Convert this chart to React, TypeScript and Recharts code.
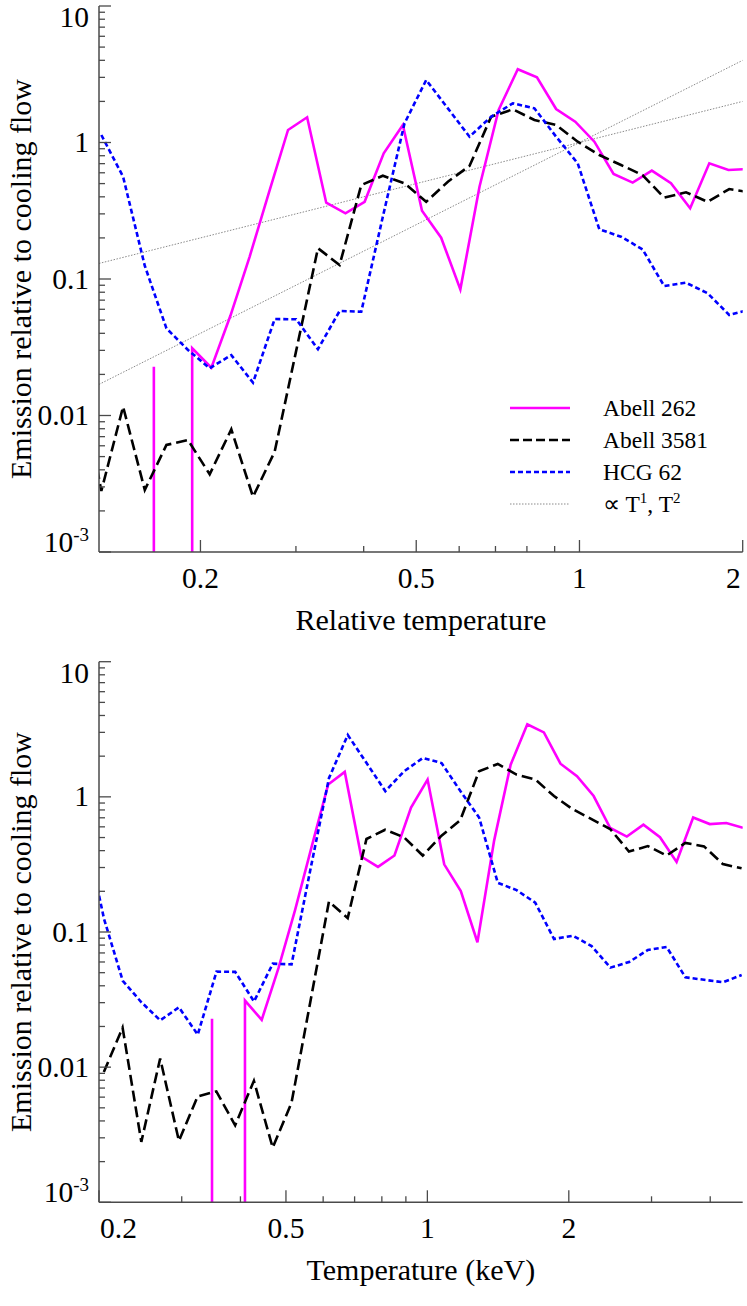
import React from 'react';
import { LineChart, Line, XAxis, YAxis, Legend, Label } from 'recharts';

const FONT = '"Liberation Serif", "Times New Roman", Times, serif';
const AXIS_COLOR = '#4a4a4a';

const seriesNames = ['Abell 262', 'Abell 3581', 'HCG 62'];
const seriesColors = ['#ff00ff', '#000000', '#0000ff'];
const seriesDash = [undefined, '11 5', '5 3'];
const powerLawName = '\u221d T';
const powerLawColor = '#8a8a8a';

// Abell 262 (null = non-positive bin, drawn as a drop to the axis)
const a262RelTemp = [0.1641, 0.178, 0.1931, 0.2095, 0.2272, 0.2465, 0.2674, 0.2901, 0.3146, 0.3412, 0.3702, 0.4016, 0.4355, 0.4724, 0.5124, 0.5558, 0.603, 0.6541, 0.7094, 0.7696, 0.8348, 0.9056, 0.9822, 1.0654, 1.1557, 1.2536, 1.3597, 1.4749, 1.6, 1.7355, 1.8825, 2.042, 2.215];
const a262KeV = [0.348, 0.377, 0.409, 0.444, 0.482, 0.523, 0.567, 0.615, 0.667, 0.723, 0.785, 0.851, 0.923, 1.001, 1.086, 1.178, 1.278, 1.387, 1.504, 1.632, 1.77, 1.92, 2.082, 2.259, 2.45, 2.658, 2.883, 3.127, 3.392, 3.679, 3.991, 4.329, 4.696];
const a262Emission: (number | null)[] = [0.0228, null, 0.0311, 0.0224, 0.054, 0.146, 0.427, 1.235, 1.53, 0.362, 0.303, 0.368, 0.834, 1.344, 0.3165, 0.2007, 0.084, 0.4745, 1.73, 3.44, 3.0, 1.76, 1.42, 1.014, 0.588, 0.508, 0.622, 0.503, 0.33, 0.704, 0.629, 0.64, 0.59];

// Abell 3581
const a3581RelTemp = [0.1093, 0.1198, 0.1313, 0.144, 0.1579, 0.1731, 0.1897, 0.208, 0.228, 0.25, 0.2741, 0.3004, 0.3294, 0.3611, 0.3959, 0.4339, 0.4757, 0.5216, 0.5719, 0.6269, 0.6873, 0.7535, 0.8259, 0.9056, 0.9926, 1.088, 1.193, 1.307, 1.433, 1.572, 1.723, 1.889, 2.071, 2.271, 2.489];
const a3581KeV = [0.2048, 0.2245, 0.2461, 0.2699, 0.2959, 0.3244, 0.3555, 0.3898, 0.4273, 0.4685, 0.5137, 0.563, 0.6173, 0.6767, 0.7419, 0.8131, 0.8915, 0.9775, 1.0717, 1.1748, 1.288, 1.4121, 1.5477, 1.6971, 1.8601, 2.0389, 2.2357, 2.4493, 2.6854, 2.9459, 3.2289, 3.54, 3.8811, 4.2559, 4.6644];
const a3581Emission: (number | null)[] = [0.0092, 0.0196, 0.0028, 0.0116, 0.00285, 0.00608, 0.00661, 0.00371, 0.00792, 0.00254, 0.00543, 0.03, 0.168, 0.1266, 0.488, 0.571, 0.5025, 0.368, 0.516, 0.673, 1.545, 1.751, 1.462, 1.344, 1.014, 0.81, 0.684, 0.578, 0.394, 0.432, 0.368, 0.456, 0.43, 0.318, 0.296];

// HCG 62
const hcg62RelTemp = [0.1313, 0.144, 0.1579, 0.1731, 0.1897, 0.208, 0.228, 0.25, 0.2741, 0.3004, 0.3294, 0.3611, 0.3959, 0.4339, 0.4757, 0.5216, 0.5719, 0.6269, 0.6873, 0.7535, 0.8259, 0.9056, 0.9926, 1.088, 1.193, 1.307, 1.433, 1.572, 1.723, 1.889, 2.071, 2.271, 2.489, 2.729, 2.991, 3.279, 3.595];
const hcg62KeV = [0.1704, 0.1869, 0.205, 0.2247, 0.2462, 0.27, 0.2959, 0.3245, 0.3558, 0.3899, 0.4276, 0.4687, 0.5139, 0.5632, 0.6175, 0.677, 0.7423, 0.8137, 0.8921, 0.978, 1.072, 1.1755, 1.2884, 1.4122, 1.5485, 1.6965, 1.86, 2.0405, 2.2365, 2.4519, 2.6882, 2.9465, 3.2307, 3.5422, 3.8823, 4.2561, 4.6663];
const hcg62Emission: (number | null)[] = [1.135, 0.5616, 0.125, 0.0435, 0.0302, 0.0222, 0.0277, 0.0174, 0.0509, 0.0507, 0.0306, 0.0583, 0.0576, 0.286, 1.38, 2.87, 1.778, 1.103, 1.545, 1.937, 1.78, 1.103, 0.704, 0.2312, 0.204, 0.165, 0.0888, 0.0939, 0.0786, 0.0545, 0.06, 0.0736, 0.0775, 0.0462, 0.0443, 0.0425, 0.048];

// reference power laws (T^1 and T^2 through 1 at T=1)
const powerLawTemp = [0.13, 2];
const powerLawT1 = [0.13, 2];
const powerLawT2 = [0.0169, 4];

// axes
const yDomain: [number, number] = [0.001, 10];
const yMajor = [0.001, 0.01, 0.1, 1, 10];
const yMinor = [0.002, 0.003, 0.004, 0.005, 0.006, 0.007, 0.008, 0.009, 0.02, 0.03, 0.04, 0.05, 0.06, 0.07, 0.08, 0.09, 0.2, 0.3, 0.4, 0.5, 0.6, 0.7, 0.8, 0.9, 2, 3, 4, 5, 6, 7, 8, 9];
const topXDomain: [number, number] = [0.13, 2];
const topXMajor = [0.2, 0.5, 1, 2];
const topXMinor = [0.3, 0.4, 0.6, 0.7, 0.8, 0.9];
const botXDomain: [number, number] = [0.2, 4.69];
const botXMajor = [0.2, 0.5, 1, 2];
const botXMinor = [0.3, 0.4, 0.6, 0.7, 0.8, 0.9, 3, 4];

type Pt = { t: number; v: number | null };
const FLOOR = 1e-6;

function buildSeries(temps: number[], values: (number | null)[]): Pt[] {
  const out: Pt[] = [];
  for (let i = 0; i < temps.length; i++) {
    const v = values[i];
    if (v === null) {
      if (i > 0 && values[i - 1] !== null) out.push({ t: temps[i - 1], v: FLOOR });
      out.push({ t: temps[i], v: null });
      if (i < temps.length - 1 && values[i + 1] !== null) out.push({ t: temps[i + 1], v: FLOOR });
    } else {
      out.push({ t: temps[i], v });
    }
  }
  return out;
}

const zip = (a: number[], b: number[]): Pt[] => a.map((t, i) => ({ t, v: b[i] }));

const isIn = (arr: number[], v: number) => arr.some((a) => Math.abs(a - v) / a < 1e-6);

const MAJOR_LEN = 12;
const MINOR_LEN = 6;
const TICK_FONT = 29.5;
const TITLE_FONT = 30;

function makeXTick(major: number[], side: 'top' | 'bottom', domain: [number, number]) {
  return (props: any) => {
    const { x, y, payload } = props;
    const v = payload.value as number;
    const isMajor = isIn(major, v);
    const len = isMajor ? MAJOR_LEN : MINOR_LEN;
    const dir = side === 'bottom' ? -1 : 1;
    let label = null;
    if (side === 'bottom' && isMajor) {
      let anchor: 'middle' | 'start' | 'end' = 'middle';
      let lx = x;
      if (Math.abs(v - domain[0]) / v < 1e-6) { anchor = 'start'; lx = x + 1; }
      if (Math.abs(v - domain[1]) / v < 0.01) { anchor = 'end'; lx = x - 2; }
      label = (
        <text x={lx} y={y + 36} textAnchor={anchor} fontFamily={FONT} fontSize={TICK_FONT} fill="#000">
          {String(v)}
        </text>
      );
    }
    return (
      <g>
        <line x1={x} x2={x} y1={y} y2={y + dir * len} stroke={AXIS_COLOR} strokeWidth={1.3} />
        {label}
      </g>
    );
  };
}

function makeYTick(side: 'left' | 'right') {
  return (props: any) => {
    const { x, y, payload } = props;
    const v = payload.value as number;
    const isMajor = isIn(yMajor, v);
    const len = isMajor ? MAJOR_LEN : MINOR_LEN;
    const dir = side === 'left' ? 1 : -1;
    let label = null;
    if (side === 'left' && isMajor) {
      let by = y + 9.5;
      if (v >= 10) by = y + 21;
      if (v <= 0.001) by = y;
      if (v <= 0.001) {
        label = (
          <text x={x - 10} y={by} textAnchor="end" fontFamily={FONT} fontSize={TICK_FONT} fill="#000">
            10
            <tspan dy={-11} fontSize={19}>-3</tspan>
          </text>
        );
      } else {
        label = (
          <text x={x - 10} y={by} textAnchor="end" fontFamily={FONT} fontSize={TICK_FONT} fill="#000">
            {String(v)}
          </text>
        );
      }
    }
    return (
      <g>
        <line x1={x} x2={x + dir * len} y1={y} y2={y} stroke={AXIS_COLOR} strokeWidth={1.3} />
        {label}
      </g>
    );
  };
}

const renderXTitle = (text: string) => (props: any) => {
  const vb = props.viewBox || {};
  return (
    <text x={vb.x + vb.width / 2} y={vb.y + 78} textAnchor="middle" fontFamily={FONT} fontSize={TITLE_FONT} fill="#000">
      {text}
    </text>
  );
};

const renderYTitle = (text: string) => (props: any) => {
  const vb = props.viewBox || {};
  const cy = vb.y + vb.height / 2;
  const cx = 31;
  return (
    <text x={cx} y={cy} transform={`rotate(-90 ${cx} ${cy})`} textAnchor="middle" fontFamily={FONT} fontSize={TITLE_FONT} fill="#000">
      {text}
    </text>
  );
};

function LegendBox() {
  const rows = [0, 1, 2];
  return (
    <svg width={240} height={132} style={{ display: 'block', overflow: 'visible' }}>
      {rows.map((i) => (
        <g key={i}>
          <line x1={10} x2={70} y1={20 + i * 32} y2={20 + i * 32} stroke={seriesColors[i]} strokeWidth={2.5} strokeDasharray={i === 1 ? '9 4' : seriesDash[i]} />
          <text x={103} y={28 + i * 32} fontFamily={FONT} fontSize={23.5} fill="#000">{seriesNames[i]}</text>
        </g>
      ))}
      <line x1={10} x2={70} y1={116} y2={116} stroke={powerLawColor} strokeWidth={1} strokeDasharray="1.5 1.5" />
      <text x={103} y={124} fontFamily={FONT} fontSize={23.5} fill="#000">
        {powerLawName}
        <tspan dy={-9} fontSize={15}>1</tspan>
        <tspan dy={9}>, T</tspan>
        <tspan dy={-9} fontSize={15}>2</tspan>
      </text>
    </svg>
  );
}

const a262Top = buildSeries(a262RelTemp, a262Emission);
const a3581Top = buildSeries(a3581RelTemp, a3581Emission);
const hcg62Top = buildSeries(hcg62RelTemp, hcg62Emission);
const a262Bot = buildSeries(a262KeV, a262Emission);
const a3581Bot = buildSeries(a3581KeV, a3581Emission);
const hcg62Bot = buildSeries(hcg62KeV, hcg62Emission);
const pl1 = zip(powerLawTemp, powerLawT1);
const pl2 = zip(powerLawTemp, powerLawT2);

const yTicks = [...yMajor, ...yMinor];

function Panel(props: {
  height: number;
  margin: { top: number; right: number; bottom: number; left: number };
  xDomain: [number, number];
  xMajor: number[];
  xMinor: number[];
  xTitle: string;
  series: Pt[][];
  showPowerLaw: boolean;
}) {
  const { height, margin, xDomain, xMajor, xMinor, xTitle, series, showPowerLaw } = props;
  const xTicks = [...xMajor, ...xMinor];
  return (
    <LineChart width={747} height={height} margin={margin}>
      <XAxis
        dataKey="t"
        type="number"
        scale="log"
        domain={xDomain}
        allowDataOverflow
        ticks={xTicks}
        interval={0}
        tickSize={0}
        tickMargin={0}
        tickLine={false}
        height={30}
        axisLine={{ stroke: AXIS_COLOR, strokeWidth: 1.5 }}
        tick={makeXTick(xMajor, 'bottom', xDomain)}
        label={<Label content={renderXTitle(xTitle)} />}
      />
      <XAxis
        xAxisId="top"
        orientation="top"
        dataKey="t"
        type="number"
        scale="log"
        domain={xDomain}
        allowDataOverflow
        ticks={xTicks}
        interval={0}
        tickSize={0}
        tickMargin={0}
        tickLine={false}
        height={0}
        axisLine={{ stroke: AXIS_COLOR, strokeWidth: 1.5 }}
        tick={makeXTick(xMajor, 'top', xDomain)}
      />
      <YAxis
        type="number"
        scale="log"
        domain={yDomain}
        allowDataOverflow
        ticks={yTicks}
        interval={0}
        tickSize={0}
        tickMargin={0}
        tickLine={false}
        width={60}
        axisLine={{ stroke: AXIS_COLOR, strokeWidth: 1.5 }}
        tick={makeYTick('left')}
        label={<Label content={renderYTitle('Emission relative to cooling flow')} />}
      />
      <YAxis
        yAxisId="right"
        orientation="right"
        type="number"
        scale="log"
        domain={yDomain}
        allowDataOverflow
        ticks={yTicks}
        interval={0}
        tickSize={0}
        tickMargin={0}
        tickLine={false}
        width={0}
        axisLine={{ stroke: AXIS_COLOR, strokeWidth: 1.5 }}
        tick={makeYTick('right')}
      />
      {showPowerLaw && (
        <Line data={pl1} dataKey="v" type="linear" stroke={powerLawColor} strokeWidth={1} strokeDasharray="1.5 1.5" dot={false} activeDot={false} isAnimationActive={false} legendType="none" />
      )}
      {showPowerLaw && (
        <Line data={pl2} dataKey="v" type="linear" stroke={powerLawColor} strokeWidth={1} strokeDasharray="1.5 1.5" dot={false} activeDot={false} isAnimationActive={false} legendType="none" />
      )}
      {series.map((d, i) => (
        <Line
          key={seriesNames[i]}
          name={seriesNames[i]}
          data={d}
          dataKey="v"
          type="linear"
          stroke={seriesColors[i]}
          strokeWidth={2.6}
          strokeDasharray={seriesDash[i]}
          dot={false}
          activeDot={false}
          connectNulls={false}
          isAnimationActive={false}
        />
      ))}
      {showPowerLaw && (
        <Legend
          layout="vertical"
          align="center"
          verticalAlign="middle"
          content={() => <LegendBox />}
          wrapperStyle={{ position: 'absolute', left: 500, top: 388, width: 240, height: 132 }}
        />
      )}
    </LineChart>
  );
}

export default function App() {
  return (
    <div style={{ position: 'absolute', left: 0, top: 0, width: 747, height: 1306, background: '#ffffff' }}>
      <div style={{ position: 'absolute', left: 0, top: 0 }}>
        <Panel
          height={650}
          margin={{ top: 6, right: 4.3, bottom: 68, left: 39 }}
          xDomain={topXDomain}
          xMajor={topXMajor}
          xMinor={topXMinor}
          xTitle="Relative temperature"
          series={[a262Top, a3581Top, hcg62Top]}
          showPowerLaw
        />
      </div>
      <div style={{ position: 'absolute', left: 0, top: 650 }}>
        <Panel
          height={656}
          margin={{ top: 11.7, right: 4.3, bottom: 73.7, left: 39 }}
          xDomain={botXDomain}
          xMajor={botXMajor}
          xMinor={botXMinor}
          xTitle="Temperature (keV)"
          series={[a262Bot, a3581Bot, hcg62Bot]}
          showPowerLaw={false}
        />
      </div>
    </div>
  );
}
